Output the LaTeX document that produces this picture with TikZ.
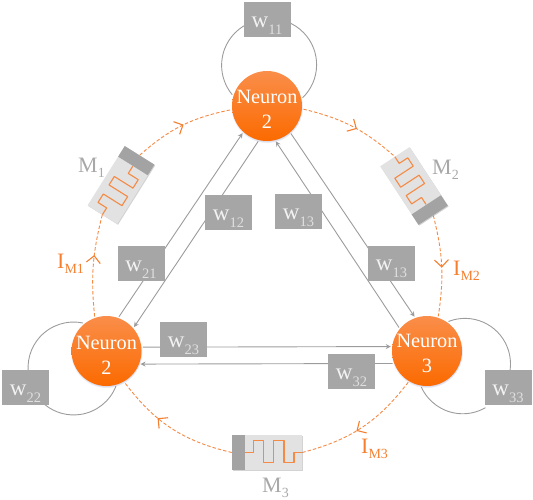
\documentclass[tikz,border=0pt]{standalone}
\usepackage{fontspec}
\setmainfont{Liberation Serif}
\usetikzlibrary{arrows.meta,shadows,backgrounds,decorations.markings}
\definecolor{boxgray}{HTML}{A6A6A6}
\definecolor{linegray}{HTML}{9C9C9C}
\definecolor{devfill}{HTML}{E2E2E2}
\definecolor{capgray}{HTML}{A3A3A3}
\definecolor{orangeline}{HTML}{F58A45}
\definecolor{orangetext}{HTML}{F57F30}
\definecolor{labgray}{HTML}{A8A8A8}
\definecolor{orange1}{HTML}{FA8E4A}
\definecolor{orange2}{HTML}{FB6A00}
\newcommand\wlab[1]{{\fontsize{23}{23}\selectfont w}\raisebox{-7pt}{\fontsize{14.5}{14.5}\selectfont\color{white!88!black}#1}}
\newcommand\nlab[2]{\makebox[0pt]{\raisebox{#2}[0pt][0pt]{\makebox[0pt]{Neuron}}\raisebox{\dimexpr#2-25pt\relax}[0pt][0pt]{\makebox[0pt]{#1}}}}
\newcommand\mlab[2]{{\fontsize{22}{22}\selectfont #1}\raisebox{-5pt}{\fontsize{14}{14}\selectfont #2}}
\newcommand\devbody{%
  \fill[capgray] (-35,-17.5) rectangle (-22.5,17.5);
  \draw[serp] (-22,0) -- (-13.7,0) -- (-13.7,-11.8) -- (-3.7,-11.8) -- (-3.7,10.2) -- (6.3,10.2) -- (6.3,-11.8) -- (17,-11.8) -- (17,10.2) -- (27,10.2) -- (27,0) -- (35,0);
}
\tikzset{
  x=1pt,y=-1pt,
  neuron/.style={circle,inner sep=0pt,outer sep=1.5pt,minimum size=70pt,top color=orange1,bottom color=orange2,text=white,font=\fontsize{20.3}{25}\selectfont,circular drop shadow={shadow xshift=0pt,shadow yshift=-1pt,shadow scale=1.03,opacity=.35,fill=black!60!blue}},
  wbox/.style={fill=boxgray,inner sep=0pt,minimum width=47pt,text height=25pt,text depth=10pt,text=white!95!black},
  syn/.style={draw=linegray,line width=.9pt},
  synarrow/.style={syn,-{Stealth[length=5pt,width=5pt]}},
  dev/.style={fill=devfill,inner sep=0pt,minimum width=70pt,minimum height=35pt,drop shadow={shadow xshift=.8pt,shadow yshift=-.8pt,opacity=.35}},
  serp/.style={draw=orangeline,line width=1.1pt,line join=round},
  cur/.style={draw=orangeline,line width=.9pt,dash pattern=on 3.5pt off 2pt},
  arrowat/.style={decoration={markings,mark=at position #1 with {\arrow{Straight Barb[length=7pt,width=14pt,line width=1.1pt,color=orangetext]}}},postaction={decorate}},
  txt/.style={inner sep=0pt,anchor=base west},
}
\begin{document}
\begin{tikzpicture}
\useasboundingbox (0,0) rectangle (533,499);
% neurons
\node[neuron] (n1) at (267,106) {\nlab{2}{3pt}};
\node[neuron] (n2) at (106.5,351) {\nlab{2}{2pt}};
\node[neuron] (n3) at (427,351) {\nlab{3}{4pt}};
% weights
\node[wbox] (w11) at (267,19.5) {\wlab{11}};
\node[wbox] (w12) at (228.5,212.5) {\wlab{12}};
\node[wbox] (w21) at (141,263.5) {\wlab{21}};
\node[wbox] (w13a) at (298.5,211.5) {\wlab{13}};
\node[wbox] (w13b) at (391.5,263) {\wlab{13}};
\node[wbox] (w23) at (183.5,339.5) {\wlab{23}};
\node[wbox] (w32) at (351.5,371.5) {\wlab{32}};
\node[wbox] (w22) at (25.5,387.5) {\wlab{22}};
\node[wbox] (w33) at (508,387.5) {\wlab{33}};
% memristors
\node[dev,rotate=237.9] (m1) at (121,185) {};
\begin{scope}[shift={(121,185)},rotate=237.9]\devbody\end{scope}
\node[dev,rotate=123.2] (m2) at (414,186) {};
\begin{scope}[shift={(414,186)},rotate=123.2]\devbody\end{scope}
\node[dev] (m3) at (267,452.5) {};
\begin{scope}[shift={(267,452.5)}]\devbody\end{scope}
% labels
\node[txt,text=labgray] (lm1) at (78,172) {\mlab{M}{1}};
\node[txt,text=labgray] (lm2) at (432,174) {\mlab{M}{2}};
\node[txt,text=labgray] (lm3) at (262,492) {\mlab{M}{3}};
\node[txt,text=orangetext] (li1) at (57,268) {\mlab{I}{M1}};
\node[txt,text=orangetext] (li2) at (453,275) {\mlab{I}{M2}};
\node[txt,text=orangetext] (li3) at (361,453) {\mlab{I}{M3}};
\begin{scope}[on background layer]
% synapses
\draw[synarrow] (n1.256) -- (n2.41);
\draw[synarrow] (n2.70) -- (n1.228.4);
\draw[synarrow] (n3.140.4) -- (n1.284);
\draw[synarrow] (n1.311.6) -- (n3.110);
\draw[synarrow] (n2.6.3) -- (n3.173.7);
\draw[synarrow] (n3.200.9) -- (n2.339.1);
% self loops
\draw[syn] (n1.13) arc[start angle=-46,end angle=70,radius=46pt];
\draw[syn] (n1.162) arc[start angle=219.8,end angle=110,radius=46pt];
\draw[syn] (n2.130) arc[start angle=78,end angle=190,radius=45.5pt];
\draw[syn] (n2.285) arc[start angle=-21.7,end angle=-130,radius=45.5pt];
\draw[syn] (n3.54) arc[start angle=111.3,end angle=-10,radius=45.5pt];
\draw[syn] (n3.261.6) arc[start angle=204.4,end angle=300,radius=45.5pt];
% memristor currents
\draw[cur,arrowat=.52] (m1.west) to[bend left=15] (n1.186.5);
\draw[cur,arrowat=.6] (n2.109) to[bend left=10] (m1.east);
\draw[cur,arrowat=.55] (n1.355) to[bend left=14] (m2.east);
\draw[cur,arrowat=.52] (m2.west) to[bend left=11.5] (n3.72.6);
\draw[cur,arrowat=.55] (n3.239) to[bend left=19] (m3.east);
\draw[cur,arrowat=.63] (m3.west) to[bend left=20] (n2.300);
\end{scope}
\end{tikzpicture}
\end{document}
